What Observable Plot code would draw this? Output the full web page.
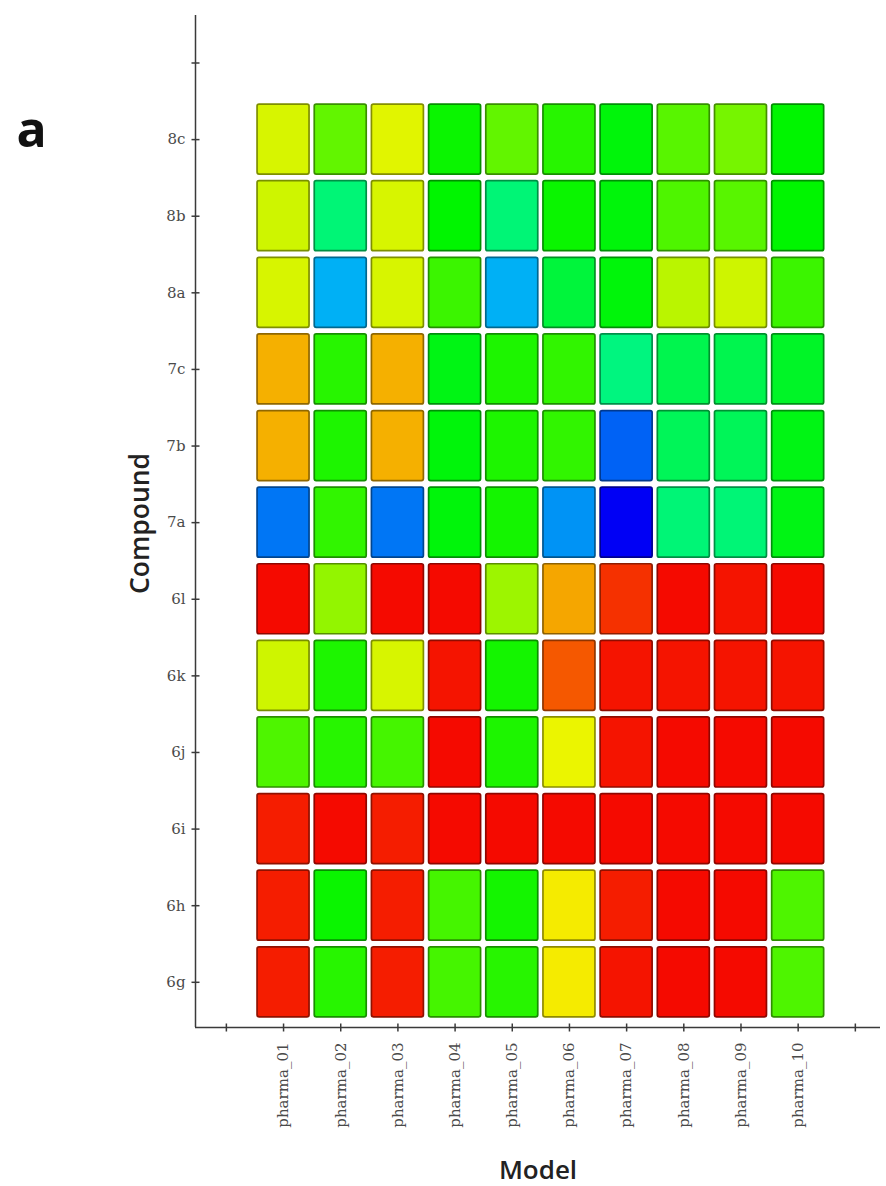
<!DOCTYPE html>
<html><head><meta charset="utf-8">
<script src="https://cdn.jsdelivr.net/npm/d3@7"></script>
<script src="https://cdn.jsdelivr.net/npm/@observablehq/plot@0.6"></script>
<style>body{margin:0;background:#fff} #chart svg{display:block}</style>
</head><body><div id="chart"></div>
<script>
// Categories (bottom to top) and models
const compounds = ["6g","6h","6i","6j","6k","6l","7a","7b","7c","8a","8b","8c"];
const models = ["pharma_01","pharma_02","pharma_03","pharma_04","pharma_05","pharma_06","pharma_07","pharma_08","pharma_09","pharma_10"];

// Scores per compound (0 = blue ... 100 = red), one value per model
const s8c = [72, 60, 73, 51, 60, 54, 49, 59, 62, 50];
const s8b = [71, 38, 72, 50, 38, 51, 49, 58, 59, 50];
const s8a = [72, 18, 72, 56, 18, 44, 49, 69, 71, 56];
const s7c = [82, 54, 82, 48, 53, 55, 37, 42, 42, 46];
const s7b = [82, 53, 82, 49, 53, 55, 10, 41, 41, 48];
const s7a = [12, 55, 12, 49, 52, 15,  0, 38, 38, 48];
const s6l = [99, 65, 99, 99, 66, 83, 95, 99, 98, 99];
const s6k = [71, 53, 72, 98, 52, 91, 98, 98, 98, 98];
const s6j = [58, 54, 57, 99, 53, 74, 98, 99, 99, 99];
const s6i = [97, 99, 97, 99, 99, 99, 99, 99, 99, 99];
const s6h = [97, 51, 97, 57, 52, 76, 97, 99, 99, 58];
const s6g = [97, 54, 97, 57, 54, 76, 98, 99, 99, 58];

const rows = {"6g": s6g, "6h": s6h, "6i": s6i, "6j": s6j, "6k": s6k, "6l": s6l,
              "7a": s7a, "7b": s7b, "7c": s7c, "8a": s8a, "8b": s8b, "8c": s8c};

const data = compounds.flatMap((c, j) => models.map((m, i) => ({compound: c, model: m, xi: i, yi: j, score: rows[c][i]})));

const xTicks = d3.range(-1, models.length + 1);
const yTicks = d3.range(0, compounds.length + 1);
const xDomain = [-1.54, 10.44];
const yDomain = [-0.59, 12.62];

const color = Plot.scale({color: {type: "linear", domain: [0, 100],
  interpolate: t => d3.hsl(240 * (1 - t), 1, 0.48).formatHex()}});
const fillOf = d => color.apply(d.score);
const strokeOf = d => d3.color(color.apply(d.score)).darker(1.5).formatHex();

const hTick = {draw(ctx) { ctx.moveTo(-4, 0); ctx.lineTo(4, 0); }};
const vTick = {draw(ctx) { ctx.moveTo(0, -4); ctx.lineTo(0, 4); }};
const axisColor = "#3a3a3a";
const tickFont = "DejaVu Serif";
const titleFont = "Open Sans";

const plot = Plot.plot({
  width: 886,
  height: 1186,
  marginLeft: 195,
  marginRight: 6,
  marginTop: 15,
  marginBottom: 159,
  x: {type: "linear", domain: xDomain, axis: null},
  y: {type: "linear", domain: yDomain, axis: null},
  style: {background: "#fff"},
  marks: [
    Plot.rect(data, {
      x1: d => d.xi - 0.5, x2: d => d.xi + 0.5,
      y1: d => d.yi - 0.5, y2: d => d.yi + 0.5,
      insetLeft: 2.6, insetRight: 2.6, insetTop: 3.3, insetBottom: 3.3,
      fill: fillOf, stroke: strokeOf, strokeWidth: 1.7, rx: 2
    }),
    // axis lines
    Plot.ruleX([xDomain[0]], {y1: yDomain[0], y2: yDomain[1], stroke: axisColor, strokeWidth: 1.5}),
    Plot.ruleY([yDomain[0]], {x1: xDomain[0], x2: xDomain[1], stroke: axisColor, strokeWidth: 1.5}),
    // ticks
    Plot.dot(yTicks, {x: xDomain[0], y: d => d, symbol: hTick, fill: "none", stroke: axisColor, strokeWidth: 1.5}),
    Plot.dot(xTicks, {x: d => d, y: yDomain[0], symbol: vTick, fill: "none", stroke: axisColor, strokeWidth: 1.5}),
    // tick labels
    Plot.text(compounds, {x: xDomain[0], y: (d, i) => i, text: d => d, textAnchor: "end", dx: -10,
      fontFamily: tickFont, fontSize: 15, fill: "#4a4a4a"}),
    Plot.text(models, {x: (d, i) => i, y: yDomain[0], text: d => d, rotate: -90, textAnchor: "end", dy: 15,
      lineAnchor: "middle", fontFamily: tickFont, fontSize: 15, fill: "#4a4a4a"}),
    // axis titles and panel label
    Plot.text(["Compound"], {frameAnchor: "left", dx: -47, dy: 2, rotate: -90, textAnchor: "middle", lineAnchor: "bottom",
      fontFamily: titleFont, fontWeight: 600, fontSize: 26.5, fill: "#222"}),
    Plot.text(["Model"], {frameAnchor: "bottom", dy: 151, textAnchor: "middle", lineAnchor: "bottom",
      fontFamily: titleFont, fontWeight: 600, fontSize: 26, fill: "#222"}),
    Plot.text(["a"], {frameAnchor: "top-left", dx: -164, dy: 131, textAnchor: "middle", lineAnchor: "bottom",
      fontFamily: titleFont, fontWeight: 700, fontSize: 50, fill: "#111"})
  ]
});
document.getElementById("chart").append(plot);
</script>
</body></html>
